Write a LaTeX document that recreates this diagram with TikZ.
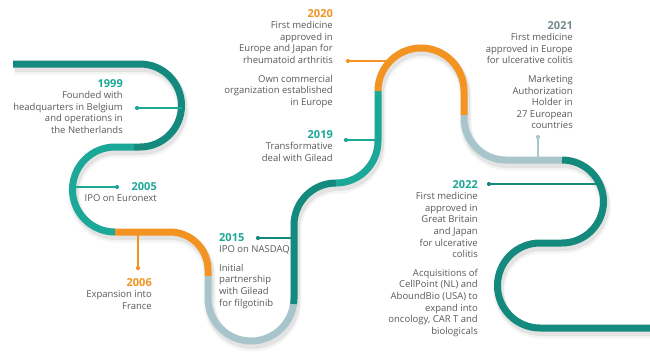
\documentclass[tikz,border=0pt]{standalone}
\usepackage{fontspec}
\setmainfont{Open Sans}
\usetikzlibrary{positioning}

\definecolor{c-dteal}{HTML}{14897D}
\definecolor{c-teal}{HTML}{1CA898}
\definecolor{c-orange}{HTML}{F39322}
\definecolor{c-grey}{HTML}{A8C5CB}
\definecolor{c-text}{HTML}{5A5A5A}

% year heading inside a text block
\newcommand\yr[2]{{\color{#1}\bfseries\fontsize{11}{13}\selectfont #2}}

% pieces of the track, one per colour
\newcommand\trackA{(13,64) -- (140,64) arc[start angle=270, end angle=450, radius=41.5] -- (134,147)}
\newcommand\trackB{(134,147) -- (115,147) arc[start angle=270, end angle=90, radius=42.5]}
\newcommand\trackC{(115,232) -- (170,232) arc[start angle=270, end angle=360, radius=38] -- (208,276)}
\newcommand\trackD{(208,276) -- (208,298) arc[start angle=180, end angle=8, radius=43]}
\newcommand\trackE{(293.6,304) arc[start angle=8, end angle=0, radius=43] -- (294,225) arc[start angle=180, end angle=270, radius=42]}
\newcommand\trackF{(336,183) arc[start angle=90, end angle=0, radius=42] -- (378,91)}
\newcommand\trackG{(378,91) arc[start angle=180, end angle=360, radius=43] -- (464,115)}
\newcommand\trackH{(464,115) -- (464,118) arc[start angle=180, end angle=90, radius=42] -- (562,160)}
\newcommand\trackI{(562,160) arc[start angle=270, end angle=450, radius=41.5] -- (540,243) arc[start angle=270, end angle=90, radius=42.5] -- (650,328)}

\begin{document}
\begin{tikzpicture}
        [x=1pt, y=-1pt,
        ribbon/.style={line width=7pt, line cap=butt},
        shade/.style={line width=9pt, black, opacity=0.07},
        link/.style={line width=1.1pt},
        dot/.style={circle, fill, inner sep=0pt, minimum size=4.2pt},
        info/.style={align=right, inner sep=0pt, text=c-text, font=\fontsize{9.5}{11.6}\selectfont}]

        \useasboundingbox[fill=white] (0,0) rectangle (650,354);

        % soft shadow under the track
        \draw[shade, shift={(1.5,3.5)}] \trackA \trackB \trackC \trackD \trackE \trackF \trackG \trackH \trackI;
        \draw[shade, line width=12pt, opacity=0.04, shift={(1.5,4.5)}] \trackA \trackB \trackC \trackD \trackE \trackF \trackG \trackH \trackI;

        % the track itself
        \draw[ribbon, c-dteal] \trackA;
        \draw[ribbon, c-teal] \trackB;
        \draw[ribbon, c-orange] \trackC;
        \draw[ribbon, c-grey] \trackD;
        \draw[ribbon, c-dteal] \trackE;
        \draw[ribbon, c-teal] \trackF;
        \draw[ribbon, c-orange] \trackG;
        \draw[ribbon, c-grey] \trackH;
        \draw[ribbon, c-dteal] \trackI;

        % points where the milestones meet the track
        \coordinate (p1999) at (182,108);
        \coordinate (p2005) at (74,187);
        \coordinate (p2006) at (138,233);
        \coordinate (p2015) at (294,238);
        \coordinate (p2019) at (378,140);
        \coordinate (p2020) at (390,61);
        \coordinate (p2021) at (538,158);
        \coordinate (p2022) at (599,184);

        % dots
        \node[dot, c-teal] (d1999) at (137,108) {};
        \node[dot, c-teal] (d2005) at (117,187) {};
        \node[dot, c-orange] (d2006) at (138,268) {};
        \node[dot, c-dteal] (d2015) at (258,238) {};
        \node[dot, c-teal] (d2019) at (346,140) {};
        \node[dot, c-orange] (d2020) at (348,61) {};
        \node[dot, c-grey] (d2021) at (538,137) {};
        \node[dot, c-dteal] (d2022) at (489,184) {};

        \draw[link, c-teal] (d1999) -- (p1999);
        \draw[link, c-teal] (p2005) -- (d2005);
        \draw[link, c-orange] (p2006) -- (d2006);
        \draw[link, c-dteal] (d2015) -- (p2015);
        \draw[link, c-teal] (d2019) -- (p2019);
        \draw[link, c-orange] (d2020) -- (p2020);
        \draw[link, c-grey] (p2021) -- (d2021);
        \draw[link, c-dteal] (d2022) -- (p2022);

        % milestone texts
        \node[info, anchor=north east] (t1999) at (123,79)
            {\yr{c-teal}{1999}\\Founded with\\headquarters in Belgium\\and operations in\\the Netherlands};
        \node[info, anchor=north east] (t2005) at (157,182)
            {\yr{c-teal}{2005}\\IPO on Euronext};
        \node[info, anchor=north east] (t2006) at (152,278)
            {\yr{c-orange}{2006}\\Expansion into\\France};
        \node[info, align=left, anchor=north west] (t2015) at (219,233)
            {\yr{c-teal}{2015}\\IPO on NASDAQ\\[7pt]Initial\\partnership\\with Gilead\\for filgotinib};
        \node[info, anchor=north east] (t2019) at (333,130)
            {\yr{c-teal}{2019}\\Transformative\\deal with Gilead};
        \node[info, anchor=north east] (t2020) at (333,9)
            {\yr{c-orange}{2020}\\First medicine\\approved in\\Europe and Japan for\\rheumatoid arthritis\\[7pt]Own commercial\\organization established\\in Europe};
        \node[info, anchor=north east] (t2021) at (573,21)
            {\yr{c-grey!70!black}{2021}\\First medicine\\approved in Europe\\for ulcerative colitis\\[7pt]Marketing\\Authorization\\Holder in\\27 European\\countries};
        \node[info, anchor=north east] (t2022) at (478,180)
            {\yr{c-teal}{2022}\\First medicine\\approved in\\Great Britain\\and Japan\\for ulcerative\\colitis\\[7pt]Acquisitions of\\CellPoint (NL) and\\AboundBio (USA) to\\expand into\\oncology, CAR T and\\biologicals};

\end{tikzpicture}
\end{document}
